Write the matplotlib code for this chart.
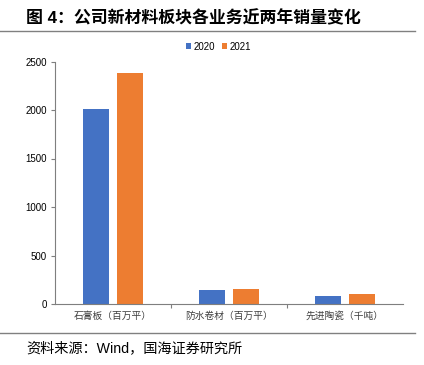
import numpy as np
import matplotlib
matplotlib.use('Agg')
import matplotlib.pyplot as plt
from matplotlib.lines import Line2D

plt.rcParams['font.family'] = ['Liberation Sans', 'Noto Sans CJK SC']

# data
categories = ['石膏板（百万平）', '防水卷材（百万平）', '先进陶瓷（千吨）']
sales_2020 = [2015, 140, 82]
sales_2021 = [2380, 152, 105]
series_names = ['2020', '2021']
colors = ['#4472C4', '#ED7D31']

fig = plt.figure(figsize=(4.24, 3.65), dpi=100)
ax = fig.add_axes([55/424, 1-304/365, (403-55)/424, (304-61.5)/365])

x = np.arange(len(categories))
w = 0.224
off = 0.147
ax.bar(x - off, sales_2020, w, color=colors[0], label=series_names[0])
ax.bar(x + off, sales_2021, w, color=colors[1], label=series_names[1])

ax.set_xlim(-0.5, 2.5)
ax.set_ylim(0, 2500)
ax.set_yticks([0, 500, 1000, 1500, 2000, 2500])
ax.tick_params(axis='y', labelsize=7, length=3, width=0.8, color='#7f7f7f', pad=3)
ax.set_xticks(x)
ax.set_xticklabels(categories, fontsize=7, color='#404040')
ax.tick_params(axis='x', length=0, pad=5)
ax.set_xticks([0.5, 1.5], minor=True)
ax.tick_params(axis='x', which='minor', length=3, width=0.8, color='#7f7f7f')
for s in ['top', 'right']:
    ax.spines[s].set_visible(False)
for s in ['left', 'bottom']:
    ax.spines[s].set_color('#7f7f7f')
    ax.spines[s].set_linewidth(0.8)

ax.legend(loc='lower center', bbox_to_anchor=(0.47, 1.025), ncol=2, frameon=False,
          fontsize=7, handlelength=0.45, handleheight=0.45, handletextpad=0.25,
          columnspacing=0.8, borderaxespad=0)

fig.text(26/424, 1-18/365, '图 4：公司新材料板块各业务近两年销量变化', fontsize=12.2,
         fontweight='bold', va='center', ha='left')
fig.add_artist(Line2D([0, 415/424], [1-31/365, 1-31/365], color='#808080', lw=1))
fig.add_artist(Line2D([0, 415/424], [1-333/365, 1-333/365], color='#808080', lw=1))
fig.text(26/424, 1-348/365, '资料来源：Wind，国海证券研究所', fontsize=10.2,
         va='center', ha='left')

fig.savefig('out.png', dpi=100)
